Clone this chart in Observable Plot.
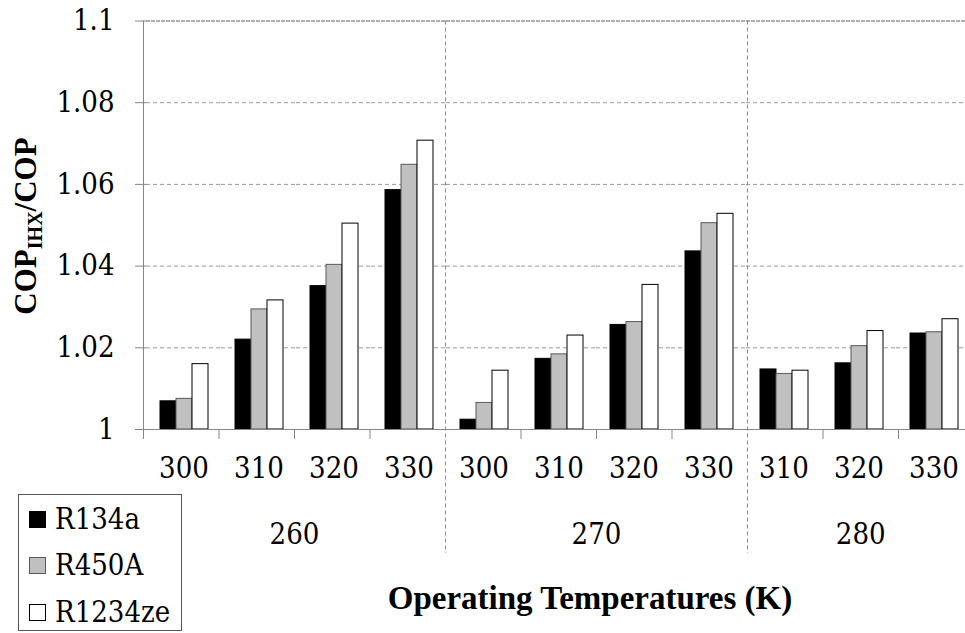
<!DOCTYPE html>
<html>
<head>
<meta charset="utf-8">
<script src="https://cdn.jsdelivr.net/npm/d3@7"></script>
<script src="https://cdn.jsdelivr.net/npm/@observablehq/plot@0.6"></script>
<style>
  html, body { margin: 0; padding: 0; background: white; }
  #chart { position: relative; width: 965px; height: 633px; overflow: hidden; font-family: "DejaVu Serif Condensed", "DejaVu Serif", serif; }
  #chart svg { position: absolute; left: 0; top: 0; }
  .legend { position: absolute; left: 18px; top: 494px; width: 164px; height: 137px; border: 1px solid #555; box-sizing: border-box; background: white; }
  .legend .row { position: absolute; left: 10px; height: 40px; display: flex; align-items: center; font-size: 29px; color: #000; white-space: nowrap; }
  .legend .sw { width: 17px; height: 17px; box-sizing: border-box; margin-right: 9px; }
  .ytitle { position: absolute; left: 27px; top: 226px; transform: translate(-50%, -50%) rotate(-90deg); font-family: "Liberation Serif", serif; font-weight: bold; font-size: 31px; white-space: nowrap; line-height: 1; }
  .ytitle sub { font-size: 20px; vertical-align: -6px; }
  .xtitle { position: absolute; left: 590px; top: 582px; transform: translateX(-50%); font-family: "Liberation Serif", serif; font-weight: bold; font-size: 33px; line-height: 1; white-space: nowrap; }
</style>
</head>
<body>
<div id="chart"></div>
<script>
// ---- data ----
const groups = ["260", "270", "280"];
const groupSizes = [4, 4, 3];
const categories = ["300", "310", "320", "330", "300", "310", "320", "330", "310", "320", "330"];
const series = ["R134a", "R450A", "R1234ze"];
const r134a   = [1.0069, 1.0220, 1.0351, 1.0586, 1.0024, 1.0173, 1.0256, 1.0436, 1.0147, 1.0162, 1.0235];
const r450a   = [1.0075, 1.0294, 1.0403, 1.0648, 1.0065, 1.0184, 1.0263, 1.0505, 1.0136, 1.0204, 1.0238];
const r1234ze = [1.0160, 1.0316, 1.0504, 1.0707, 1.0144, 1.0230, 1.0354, 1.0528, 1.0144, 1.0241, 1.0270];
const yTicks = [1, 1.02, 1.04, 1.06, 1.08, 1.1];
const yTickLabels = ["1", "1.02", "1.04", "1.06", "1.08", "1.1"];

// ---- styling ----
const fills = {"R134a": "#000000", "R450A": "#c0c0c0", "R1234ze": "#ffffff"};
const strokes = {"R134a": "#000000", "R450A": "#595959", "R1234ze": "#000000"};
const FONT = "'DejaVu Serif Condensed', 'DejaVu Serif', serif";
const FS = 29;
const W = 965, H = 633;
const M = {top: 20.5, left: 143, bottom: 204, right: 0};
const xRange = [143, 973.5];
const yRange = [429, 20.5];

// ---- derived tables ----
const catGroup = groups.flatMap((g, gi) => Array(groupSizes[gi]).fill(g));
const keys = categories.map((c, i) => catGroup[i] + "-" + c);
const valuesBySeries = {"R134a": r134a, "R450A": r450a, "R1234ze": r1234ze};
const data = keys.flatMap((k, i) => series.map(s => ({key: k, series: s, value: valuesBySeries[s][i]})));
const baseline = yTicks[0];

let acc = 0;
const groupStarts = groupSizes.map(n => { const s = acc; acc += n; return s; });
const groupBoundaries = groupStarts.slice(1);
const groupCenters = groups.map((g, gi) => ({label: g, x: groupStarts[gi] + groupSizes[gi] / 2}));
const catBoundaryTicks = d3.range(0, keys.length + 1).filter(v => !groupBoundaries.includes(v));

// ---- main (faceted bars) ----
const main = Plot.plot({
  width: W, height: H,
  marginTop: M.top, marginLeft: M.left, marginBottom: M.bottom, marginRight: M.right,
  style: {fontFamily: FONT, background: "white", overflow: "hidden"},
  fx: {domain: keys, range: xRange, padding: 0, axis: null, label: null},
  x: {domain: series, paddingInner: 0, paddingOuter: 0.75, axis: null},
  y: {domain: [yTicks[0], yTicks[yTicks.length - 1]], range: yRange, axis: null},
  marks: [
    Plot.gridY(yTicks.slice(1, -1), {stroke: "#9a9a9a", strokeOpacity: 1, strokeDasharray: "4,3"}),
    Plot.gridY(yTicks.slice(-1), {stroke: "#5a5a5a", strokeOpacity: 1, strokeDasharray: "4,1"}),
    ...series.map(s => Plot.barY(data.filter(d => d.series === s), {
      fx: "key", x: "series", y1: () => baseline, y2: "value",
      fill: fills[s], stroke: strokes[s], strokeWidth: 1
    })),
    Plot.axisY(yTicks, {
      tickSize: 11, tickPadding: 21, fontSize: FS, stroke: "#868686", fill: "black",
      tickFormat: d => yTickLabels[yTicks.indexOf(d)], label: null
    }),
    Plot.axisFx({
      anchor: "bottom", tickSize: 0, tickPadding: 28, fontSize: FS, fill: "black",
      tickFormat: k => categories[keys.indexOf(k)], label: null
    })
  ]
});

// ---- overlay (axis lines, category dividers, group labels) ----
const overlay = Plot.plot({
  width: W, height: H,
  marginTop: M.top, marginLeft: M.left, marginBottom: M.bottom, marginRight: M.right,
  style: {fontFamily: FONT, background: "transparent", overflow: "visible"},
  x: {type: "linear", domain: [0, keys.length], range: xRange, axis: null},
  y: {domain: [yTicks[0], yTicks[yTicks.length - 1]], range: yRange, axis: null},
  marks: [
    Plot.ruleX([0], {stroke: "#868686"}),
    Plot.ruleY([baseline], {stroke: "#868686"}),
    Plot.axisX(catBoundaryTicks, {tickSize: 10, stroke: "#868686", tickFormat: () => "", label: null}),
    Plot.ruleX(groupBoundaries, {stroke: "#8a8a8a", strokeDasharray: "4,3", insetBottom: -124}),
    Plot.text(groupCenters, {x: "x", text: "label", frameAnchor: "bottom", dy: 114, fontSize: FS, fill: "black"})
  ]
});

const chart = document.getElementById("chart");
chart.appendChild(main);
chart.appendChild(overlay);

// ---- axis titles ----
const yt = document.createElement("div");
yt.className = "ytitle";
yt.innerHTML = "COP<sub>IHX</sub>/COP";
chart.appendChild(yt);

const xt = document.createElement("div");
xt.className = "xtitle";
xt.textContent = "Operating Temperatures (K)";
chart.appendChild(xt);

// ---- legend ----
const lg = document.createElement("div");
lg.className = "legend";
const rowCenters = [24, 70, 117];
series.forEach((s, i) => {
  const row = document.createElement("div");
  row.className = "row";
  row.style.top = (rowCenters[i] - 20) + "px";
  const sw = document.createElement("div");
  sw.className = "sw";
  sw.style.background = fills[s];
  sw.style.border = "1px solid " + (s === "R450A" ? "#595959" : "#000");
  row.appendChild(sw);
  const t = document.createElement("span");
  t.textContent = s;
  row.appendChild(t);
  lg.appendChild(row);
});
chart.appendChild(lg);
</script>
</body>
</html>
